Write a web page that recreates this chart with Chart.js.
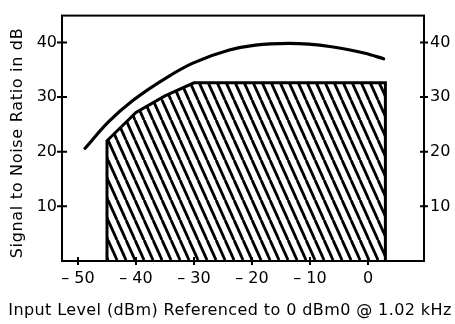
<!DOCTYPE html>
<html>
<head>
<meta charset="utf-8">
<script src="https://cdn.jsdelivr.net/npm/chart.js@4/dist/chart.umd.min.js"></script>
<style>
html,body{margin:0;padding:0;background:#fff;}
canvas{display:block;}
</style>
</head>
<body>
<canvas id="c" width="455" height="324"></canvas>
<script>
// ---- data ----
const curveX = [-48.8, -44.8, -40.5, -34.5, -30.2, -23.9, -19.4, -13.6, -6.3, -0.5, 2.7];
const curveY = [20.6, 25.4, 29.4, 33.7, 36.2, 38.6, 39.5, 39.8, 39.2, 38.0, 37.0];
const regionX = [-45, -45, -40, -35, -30, 3, 3];
const regionY = [0, 22, 27.2, 30.2, 32.6, 32.6, 0];
const xTicks = [-50, -40, -30, -20, -10, 0];
const xTickLabels = ['\u2013 50', '\u2013 40', '\u2013 30', '\u2013 20', '\u2013 10', '0'];
const yTicks = [10, 20, 30, 40];
const yTickLabels = ['10', '20', '30', '40'];
const xTitle = 'Input Level (dBm) Referenced to 0 dBm0 @ 1.02 kHz';
const yTitle = 'Signal to Noise Ratio in dB';

// hatch pattern
function hatchPattern() {
  const t = document.createElement('canvas');
  t.width = 9; t.height = 20;
  const g = t.getContext('2d');
  g.strokeStyle = '#000';
  g.lineWidth = 2.8;
  for (const o of [-9, 0, 9]) {
    g.beginPath();
    g.moveTo(o, 0); g.lineTo(o + 9, 20);
    g.stroke();
  }
  return document.getElementById('c').getContext('2d').createPattern(t, 'repeat');
}

Chart.defaults.font.family = '"DejaVu Sans", sans-serif';
Chart.defaults.font.size = 16;
Chart.defaults.color = '#000';

const frameTicks = {
  id: 'frameTicks',
  afterDatasetsDraw(chart) {
    const ctx = chart.ctx;
    const a = chart.chartArea;
    const xs = chart.scales.x, ys = chart.scales.y;
    ctx.save();
    ctx.strokeStyle = '#000';
    ctx.lineWidth = 2;
    ctx.strokeRect(a.left, a.top, a.right - a.left, a.bottom - a.top);
    ctx.beginPath();
    xTicks.forEach(v => {
      const p = xs.getPixelForValue(v);
      ctx.moveTo(p, a.bottom - 4); ctx.lineTo(p, a.bottom + 4);
    });
    yTicks.forEach(v => {
      const p = ys.getPixelForValue(v);
      ctx.moveTo(a.left - 5, p); ctx.lineTo(a.left + 5, p);
      ctx.moveTo(a.right - 4, p); ctx.lineTo(a.right + 4, p);
    });
    ctx.stroke();
    ctx.restore();
  },
  afterDraw(chart) {
    const ctx = chart.ctx;
    ctx.save();
    ctx.fillStyle = '#000';
    ctx.font = '16px "DejaVu Sans", sans-serif';
    ctx.textAlign = 'center';
    ctx.textBaseline = 'alphabetic';
    try { ctx.letterSpacing = '0.4px'; } catch (e) {}
    ctx.fillText(xTitle, 230, 315);
    ctx.translate(22, 143);
    ctx.rotate(-Math.PI / 2);
    try { ctx.letterSpacing = '0.7px'; } catch (e) {}
    ctx.fillText(yTitle, 0, 0);
    ctx.restore();
  }
};

new Chart(document.getElementById('c'), {
  type: 'line',
  data: {
    datasets: [
      {
        data: curveX.map((x, i) => ({x: x, y: curveY[i]})),
        borderColor: '#000',
        borderWidth: 3.2,
        borderCapStyle: 'round',
        pointRadius: 0,
        cubicInterpolationMode: 'monotone',
        fill: false
      },
      {
        data: regionX.map((x, i) => ({x: x, y: regionY[i]})),
        borderColor: '#000',
        borderWidth: 3,
        pointRadius: 0,
        tension: 0,
        fill: 'origin',
        backgroundColor: hatchPattern()
      }
    ]
  },
  options: {
    responsive: false,
    animation: false,
    events: [],
    layout: {padding: {top: 5, left: 0, right: 0, bottom: 0}},
    plugins: {legend: {display: false}, tooltip: {enabled: false}},
    scales: {
      x: {
        type: 'linear',
        min: -52.76, max: 9.66,
        grid: {display: false, drawTicks: false},
        border: {display: false},
        afterBuildTicks: s => { s.ticks = xTicks.map(v => ({value: v})); },
        afterFit: s => { s.height = 63; },
        ticks: {padding: 8, maxRotation: 0, autoSkip: false,
                callback: (v, i) => xTickLabels[i]}
      },
      y: {
        type: 'linear',
        position: 'left',
        min: 0, max: 44.9,
        grid: {display: false, drawTicks: false},
        border: {display: false},
        afterBuildTicks: s => { s.ticks = yTicks.map(v => ({value: v})); },
        afterFit: s => { s.width = 62; },
        ticks: {padding: 5, callback: (v, i) => yTickLabels[i]}
      },
      y2: {
        type: 'linear',
        position: 'right',
        min: 0, max: 44.9,
        grid: {display: false, drawTicks: false},
        border: {display: false},
        afterBuildTicks: s => { s.ticks = yTicks.map(v => ({value: v})); },
        afterFit: s => { s.width = 31; },
        ticks: {padding: 6, callback: (v, i) => yTickLabels[i]}
      }
    }
  },
  plugins: [frameTicks]
});
</script>
</body>
</html>
